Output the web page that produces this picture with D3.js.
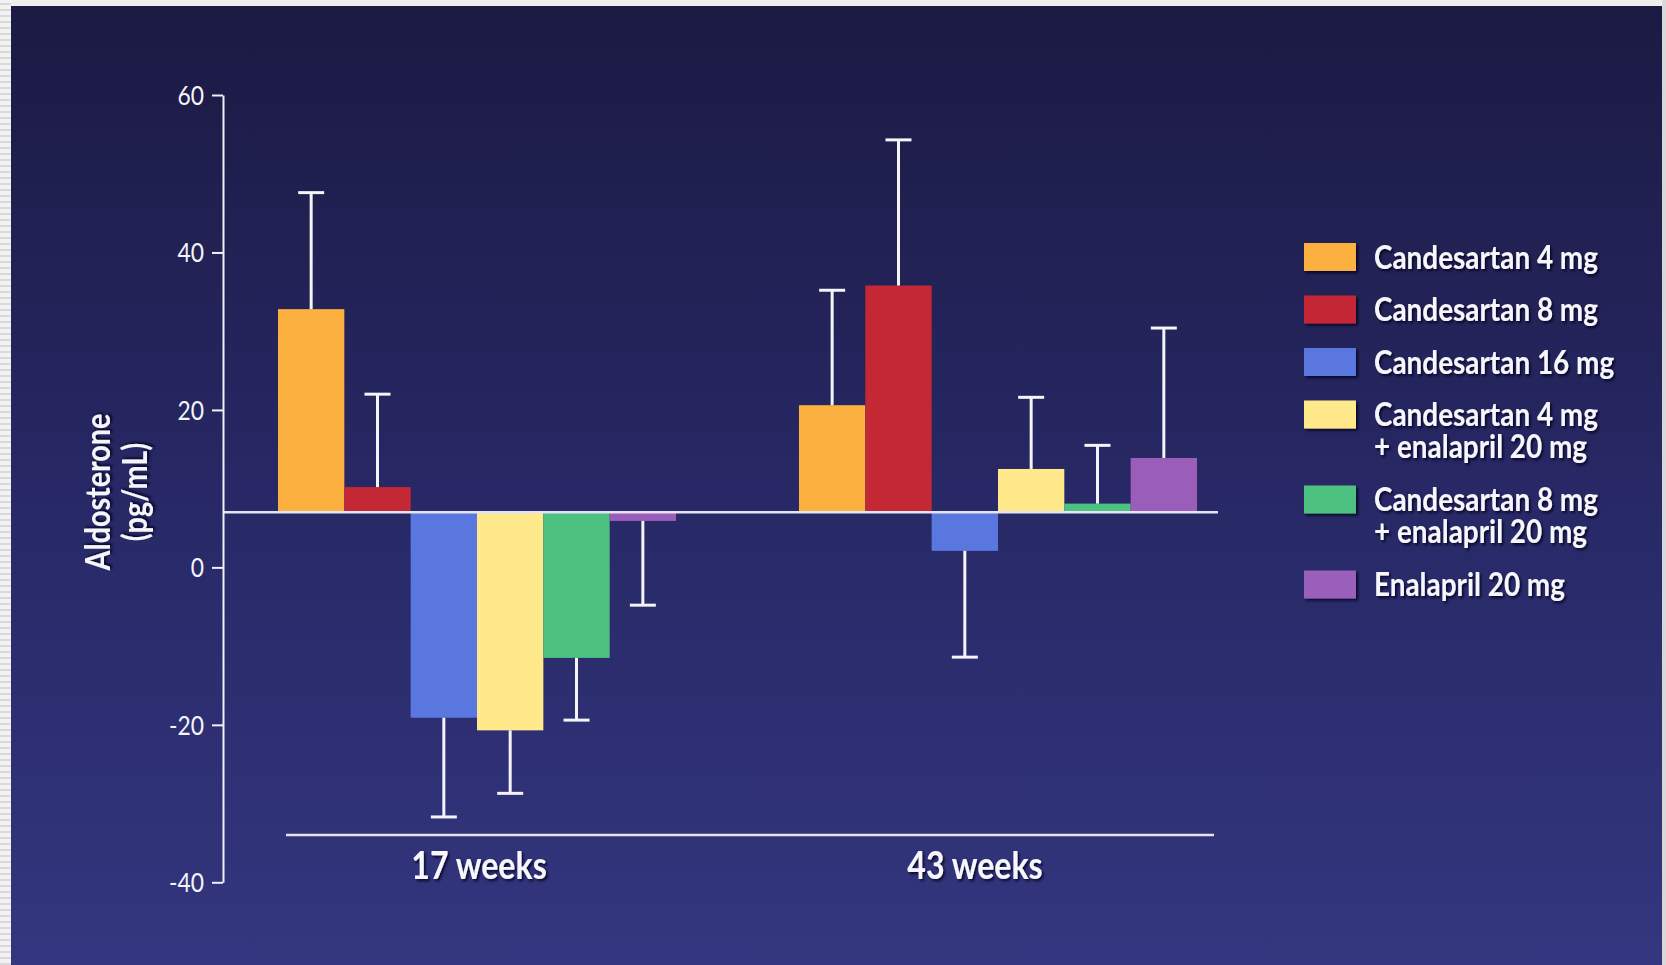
<!DOCTYPE html>
<html>
<head>
<meta charset="utf-8">
<script src="https://cdn.jsdelivr.net/npm/d3@7"></script>
<style>
  html, body { margin: 0; padding: 0; background: #ececec; }
  svg { display: block; }
  text { font-family: Lato, "Open Sans", "DejaVu Sans", sans-serif; }
</style>
</head>
<body>
<svg id="chart" width="1666" height="965"></svg>
<script>
// Treatment groups and time points
const timePoints = ["17 weeks", "43 weeks"];
const seriesNames = [
  "Candesartan 4 mg",
  "Candesartan 8 mg",
  "Candesartan 16 mg",
  "Candesartan 4 mg\n+ enalapril 20 mg",
  "Candesartan 8 mg\n+ enalapril 20 mg",
  "Enalapril 20 mg"
];
const seriesColors = ["#fbb040", "#c42834", "#5a77e0", "#ffe98b", "#4dc180", "#9a5eba"];

// Bar ends (pg/mL on the axis) and error-bar lengths, one entry per treatment
const week17Values = [32.8, 10.2, -19.1, -20.7, -11.5, 5.9];
const week17Errors = [14.8, 11.8, 12.6, 8.0, 7.9, 10.7];
const week43Values = [20.6, 35.8, 2.1, 12.5, 8.1, 13.9];
const week43Errors = [14.6, 18.5, 13.5, 9.1, 7.4, 16.5];

// Bars grow from this reference line
const refLevel = 7;

const yTicks = [-40, -20, 0, 20, 40, 60];
const yTitle = ["Aldosterone", "(pg/mL)"];

const svg = d3.select("#chart");
const W = 1666, H = 965;

// ---- background ----
const defs = svg.append("defs");
const grad = defs.append("linearGradient").attr("id", "bg").attr("x1", 0).attr("y1", 0).attr("x2", 0).attr("y2", 1);
grad.append("stop").attr("offset", "0%").attr("stop-color", "#1b1a43");
grad.append("stop").attr("offset", "50%").attr("stop-color", "#272865");
grad.append("stop").attr("offset", "100%").attr("stop-color", "#34367f");

const stripes = defs.append("pattern").attr("id", "stripes")
  .attr("width", 11).attr("height", 6).attr("patternUnits", "userSpaceOnUse");
stripes.append("rect").attr("width", 11).attr("height", 6).attr("fill", "#f2f2f2");
stripes.append("rect").attr("y", 3).attr("width", 11).attr("height", 2).attr("fill", "#d9d9d9");

const shadow = defs.append("filter").attr("id", "shadow")
  .attr("x", "-10%").attr("y", "-20%").attr("width", "130%").attr("height", "160%");
shadow.append("feDropShadow").attr("dx", 2).attr("dy", 2).attr("stdDeviation", 1.5)
  .attr("flood-color", "#05051a").attr("flood-opacity", 0.85);

svg.append("rect").attr("width", W).attr("height", H).attr("fill", "#eeeeee");
svg.append("rect").attr("x", 0).attr("y", 0).attr("width", 11).attr("height", H).attr("fill", "url(#stripes)");
svg.append("rect").attr("x", 1662).attr("y", 0).attr("width", 4).attr("height", H).attr("fill", "#d8d8d8");
svg.append("rect").attr("x", 11).attr("y", 6).attr("width", 1651).attr("height", H - 6).attr("fill", "url(#bg)");

// Horizontal squeeze that gives the labels a condensed look
const probe = svg.append("text").attr("font-weight", "bold").style("font-size", "33px").text("Candesartan 4 mg");
const squeeze = Math.min(1, 224 / probe.node().getComputedTextLength());
probe.remove();

// ---- scales ----
const y = d3.scaleLinear().domain([-40, 60]).range([882.3, 95]);
const x = d3.scaleBand().domain(timePoints).range([278, 1197]).paddingInner(0.236).paddingOuter(0);
const xi = d3.scaleBand().domain(seriesNames).range([0, x.bandwidth()]).padding(0);

const rows = [];
timePoints.forEach((tp, gi) => {
  const vals = gi === 0 ? week17Values : week43Values;
  const errs = gi === 0 ? week17Errors : week43Errors;
  seriesNames.forEach((s, si) => rows.push({ tp, s, si, v: vals[si], e: errs[si] }));
});

const plot = svg.append("g");

// ---- bars ----
plot.selectAll("rect.bar").data(rows).join("rect")
  .attr("class", "bar")
  .attr("x", d => x(d.tp) + xi(d.s))
  .attr("width", xi.bandwidth())
  .attr("y", d => Math.min(y(d.v), y(refLevel)))
  .attr("height", d => Math.abs(y(d.v) - y(refLevel)))
  .attr("fill", d => seriesColors[d.si]);

// ---- error bars (drawn away from the reference line) ----
const capHalf = 13;
const eb = plot.selectAll("g.err").data(rows).join("g").attr("class", "err")
  .attr("stroke", "#f4f4fa").attr("stroke-width", 3);
const tipOf = d => d.v >= refLevel ? d.v + d.e : d.v - d.e;
const cx = d => x(d.tp) + xi(d.s) + xi.bandwidth() / 2;
eb.append("line")
  .attr("x1", cx).attr("x2", cx)
  .attr("y1", d => y(d.v)).attr("y2", d => y(tipOf(d)));
eb.append("line")
  .attr("x1", d => cx(d) - capHalf).attr("x2", d => cx(d) + capHalf)
  .attr("y1", d => y(tipOf(d))).attr("y2", d => y(tipOf(d)));

// ---- reference line ----
plot.append("line")
  .attr("x1", 223).attr("x2", 1218)
  .attr("y1", y(refLevel)).attr("y2", y(refLevel))
  .attr("stroke", "#e6e4f4").attr("stroke-width", 2.5);

// ---- y axis ----
const yAxis = svg.append("g")
  .attr("transform", "translate(223,0)")
  .call(d3.axisLeft(y).tickValues(yTicks).tickFormat(d => String(d))
    .tickSize(11).tickSizeOuter(0).tickPadding(8));
yAxis.select(".domain").attr("stroke", "#f0f0f8").attr("stroke-width", 2);
yAxis.selectAll(".tick line").attr("stroke", "#f0f0f8").attr("stroke-width", 2);
yAxis.selectAll(".tick text")
  .attr("fill", "#f4f4fa")
  .style("font-family", "Lato, 'Open Sans', sans-serif")
  .style("font-size", "27px")
  .attr("x", null).attr("dy", null)
  .attr("transform", `translate(-19,0) scale(${squeeze},1)`)
  .attr("y", 9.5);

// y title
const yt = svg.append("text")
  .attr("transform", `translate(117,492) rotate(-90) scale(${squeeze},1)`)
  .attr("text-anchor", "middle")
  .attr("fill", "#f4f4fa")
  .attr("font-weight", "bold")
  .style("font-size", "34px")
  .attr("filter", "url(#shadow)");
yTitle.forEach((t, i) => {
  yt.append("tspan").attr("x", 0).attr("dy", i === 0 ? "-0.22em" : "1.1em").text(t);
});

// ---- category axis ----
svg.append("line")
  .attr("x1", 286).attr("x2", 1214).attr("y1", 835).attr("y2", 835)
  .attr("stroke", "#e6e4f4").attr("stroke-width", 2.5);
const labelNudge = [2, -23];
svg.selectAll("text.cat").data(timePoints).join("text")
  .attr("class", "cat")
  .attr("transform", (d, i) => `translate(${x(d) + x.bandwidth() / 2 + labelNudge[i]},879) scale(${squeeze},1)`)
  .attr("text-anchor", "middle")
  .attr("fill", "#f6f6fc")
  .attr("font-weight", "bold")
  .style("font-size", "38px")
  .attr("filter", "url(#shadow)")
  .text(d => d);

// ---- legend ----
const legend = svg.append("g").attr("transform", "translate(1304,243)");
let ly = 0;
seriesNames.forEach((name, i) => {
  const lines = name.split("\n");
  const g = legend.append("g").attr("transform", `translate(0,${ly})`);
  g.append("rect").attr("width", 52).attr("height", 28)
    .attr("fill", seriesColors[i]).attr("filter", "url(#shadow)");
  const t = g.append("text")
    .attr("transform", `translate(70,14) scale(${squeeze},1)`)
    .attr("fill", "#f6f6fc")
    .attr("font-weight", "bold")
    .style("font-size", "33px")
    .attr("filter", "url(#shadow)");
  lines.forEach((ln, k) => {
    t.append("tspan").attr("x", 0).attr("dy", k === 0 ? "0.36em" : 31.5).text(ln);
  });
  ly += 52.5 + (lines.length - 1) * 32.5;
});
</script>
</body>
</html>
